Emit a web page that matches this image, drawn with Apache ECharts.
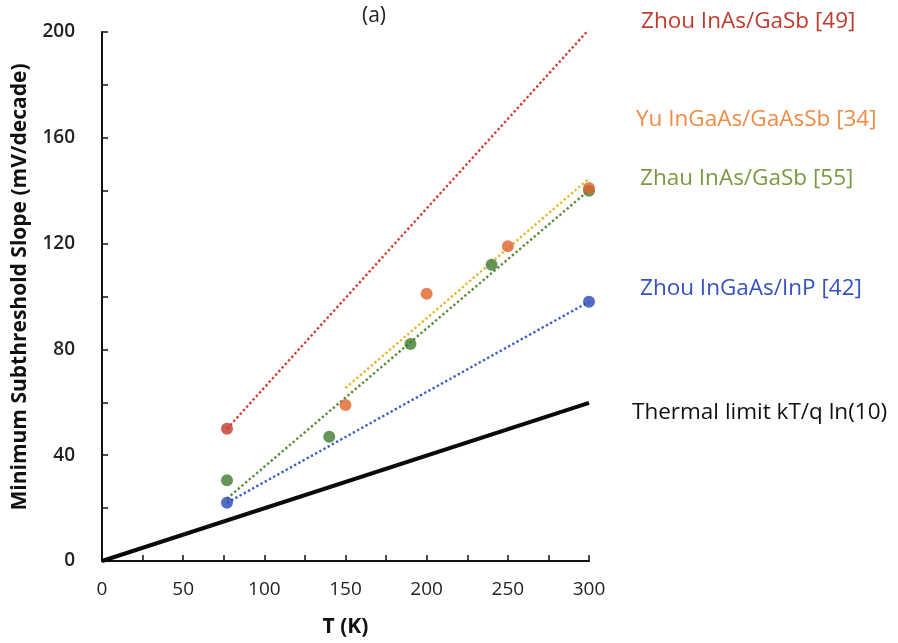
<!DOCTYPE html>
<html>
<head>
<meta charset="utf-8">
<script src="https://cdn.jsdelivr.net/npm/echarts@6/dist/echarts.min.js"></script>
<style>
  html, body { margin: 0; padding: 0; background: #fff; }
  #chart { width: 898px; height: 643px; }
</style>
</head>
<body>
<div id="chart"></div>
<script>
// Measured minimum subthreshold slope vs temperature for several TFETs
const zhouInAsT = [77, 300];
const zhouInAsS = [50, 201];
const zhouInAsFitT = [77, 300];
const zhouInAsFitS = [50, 201];

const yuT = [150, 200, 250, 300];
const yuS = [59, 101, 119, 141];
const yuFitT = [150, 300];
const yuFitS = [65.4, 144.6];

const zhauT = [77, 140, 190, 240, 300];
const zhauS = [30.5, 47, 82, 112, 140];
const zhauFitT = [77, 300];
const zhauFitS = [23.6, 140.2];

const zhouInPT = [77, 300];
const zhouInPS = [22, 98];
const zhouInPFitT = [77, 300];
const zhouInPFitS = [22, 98];

// Thermal limit kT/q ln(10)
const thermalT = [0, 300];
const thermalS = [0, 59.8];

const xTicks = [0, 50, 100, 150, 200, 250, 300];
const yTicks = [0, 40, 80, 120, 160, 200];

const seriesLabels = [
  'Zhou InAs/GaSb [49]',
  'Yu InGaAs/GaAsSb [34]',
  'Zhau InAs/GaSb [55]',
  'Zhou InGaAs/InP [42]',
  'Thermal limit kT/q ln(10)'
];
const yTitle = 'Minimum Subthreshold Slope (mV/decade)';
const xTitle = 'T (K)';

const FONT = '"Open Sans", "DejaVu Sans", sans-serif';
const pairs = (xs, ys) => xs.map((x, i) => [x, ys[i]]);

function fitLine(name, xs, ys, color) {
  return {
    name: name + ' fit', type: 'line', data: pairs(xs, ys), symbol: 'none', silent: true,
    lineStyle: { color: color, width: 2.4, type: [2.3, 2.5], cap: 'butt' }, z: 2
  };
}
function points(name, xs, ys, color) {
  return {
    name: name, type: 'scatter', data: pairs(xs, ys), symbol: 'circle', symbolSize: 12,
    itemStyle: { color: color }, z: 4
  };
}

const chart = echarts.init(document.getElementById('chart'), null, { renderer: 'canvas' });
chart.setOption({
  animation: false,
  backgroundColor: '#ffffff',
  grid: { left: 102, right: 309, top: 32, bottom: 82, containLabel: false },
  xAxis: {
    type: 'value', min: 0, max: 300, interval: 25,
    name: xTitle, nameLocation: 'middle', nameGap: 56,
    nameTextStyle: { fontFamily: FONT, fontSize: 21, fontWeight: 'bold', color: '#111' },
    axisLine: { lineStyle: { color: '#111', width: 2 } },
    axisTick: { inside: true, length: 6, lineStyle: { color: '#111', width: 1.5 } },
    axisLabel: {
      margin: 19, fontFamily: FONT, fontSize: 19, color: '#222',
      formatter: v => (xTicks.indexOf(v) >= 0 ? String(v) : '')
    },
    splitLine: { show: false }
  },
  yAxis: {
    type: 'value', min: 0, max: 200, interval: 20,
    axisLine: { show: true, lineStyle: { color: '#111', width: 2 } },
    axisTick: { show: true, inside: true, length: 6, lineStyle: { color: '#111', width: 1.5 } },
    axisLabel: {
      margin: 27, fontFamily: FONT, fontSize: 19, fontWeight: 600, color: '#222',
      formatter: v => (yTicks.indexOf(v) >= 0 ? String(v) : '')
    },
    splitLine: { show: false }
  },
  series: [
    {
      name: seriesLabels[4], type: 'line', data: pairs(thermalT, thermalS), symbol: 'none',
      lineStyle: { color: '#0a0a0a', width: 4 }, z: 3
    },
    fitLine(seriesLabels[0], zhouInAsFitT, zhouInAsFitS, '#d5382c'),
    fitLine(seriesLabels[1], yuFitT, yuFitS, '#e8b52a'),
    fitLine(seriesLabels[2], zhauFitT, zhauFitS, '#5a8a34'),
    fitLine(seriesLabels[3], zhouInPFitT, zhouInPFitS, '#3a5cc4'),
    points(seriesLabels[0], zhouInAsT, zhouInAsS, '#c7372b'),
    points(seriesLabels[2], zhauT, zhauS, '#3f7a2f'),
    points(seriesLabels[1], yuT, yuS, '#e0642c'),
    points(seriesLabels[3], zhouInPT, zhouInPS, '#2747b8')
  ],
  graphic: [
    {
      type: 'text', x: 20, y: 287, rotation: Math.PI / 2,
      style: { text: yTitle, font: 'bold 21px ' + FONT, fill: '#111', align: 'center', verticalAlign: 'middle' }
    },
    { type: 'text', left: 362, top: 6, style: { text: '(a)', font: '21px ' + FONT, fill: '#222' } },
    { type: 'text', left: 641, top: 10, style: { text: seriesLabels[0], font: '22.5px ' + FONT, fill: '#c23a2e' } },
    { type: 'text', left: 636, top: 108, style: { text: seriesLabels[1], font: '22.5px ' + FONT, fill: '#f08b45' } },
    { type: 'text', left: 640, top: 167, style: { text: seriesLabels[2], font: '22.5px ' + FONT, fill: '#7a9a42' } },
    { type: 'text', left: 640, top: 277, style: { text: seriesLabels[3], font: '22.5px ' + FONT, fill: '#3452c2' } },
    { type: 'text', left: 632, top: 401, style: { text: seriesLabels[4], font: '22.5px ' + FONT, fill: '#111' } }
  ]
});
</script>
</body>
</html>
